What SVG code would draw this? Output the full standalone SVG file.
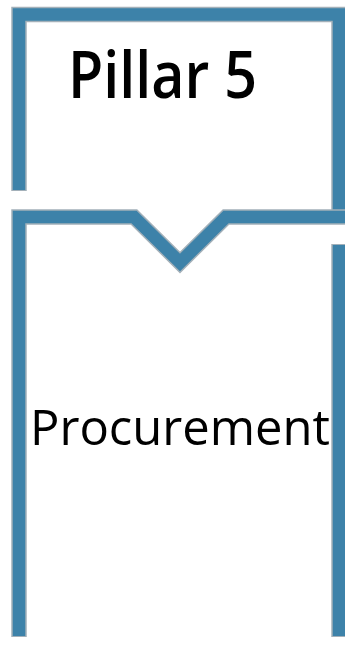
<svg xmlns="http://www.w3.org/2000/svg" width="345" height="646" viewBox="0 0 345 646">
<style>
.edge{fill:none;stroke:#a3b0b9;stroke-width:15.5;stroke-linejoin:miter;stroke-linecap:butt}
.bar{fill:none;stroke:#3d82a9;stroke-width:12.5;stroke-linejoin:miter;stroke-linecap:butt}
.title{font-family:"Open Sans","Liberation Sans",sans-serif;font-weight:600;fill:#000}
.label{font-family:"Open Sans","Liberation Sans",sans-serif;font-weight:400;fill:#000}
</style>
<rect width="345" height="646" fill="#fff"/>
<g id="pillar-header">
<path class="edge" d="M19,191 V14.5 H339 V217"/>
<path class="bar" d="M19,190 V14.5 H339 V217"/>
<text class="title" x="68" y="98" font-size="66" textLength="189" lengthAdjust="spacingAndGlyphs">Pillar 5</text>
</g>
<g id="pillar-body">
<path class="edge" d="M19,637 V217 H134 L180,262.5 L226,217 H345"/>
<path class="edge" d="M339,244 V637"/>
<path class="bar" d="M19,636 V217 H134 L180,262.5 L226,217 H345"/>
<path class="bar" d="M339,245 V636"/>
<text class="label" x="30" y="445" font-size="49" textLength="300" lengthAdjust="spacingAndGlyphs">Procurement</text>
</g>
</svg>
